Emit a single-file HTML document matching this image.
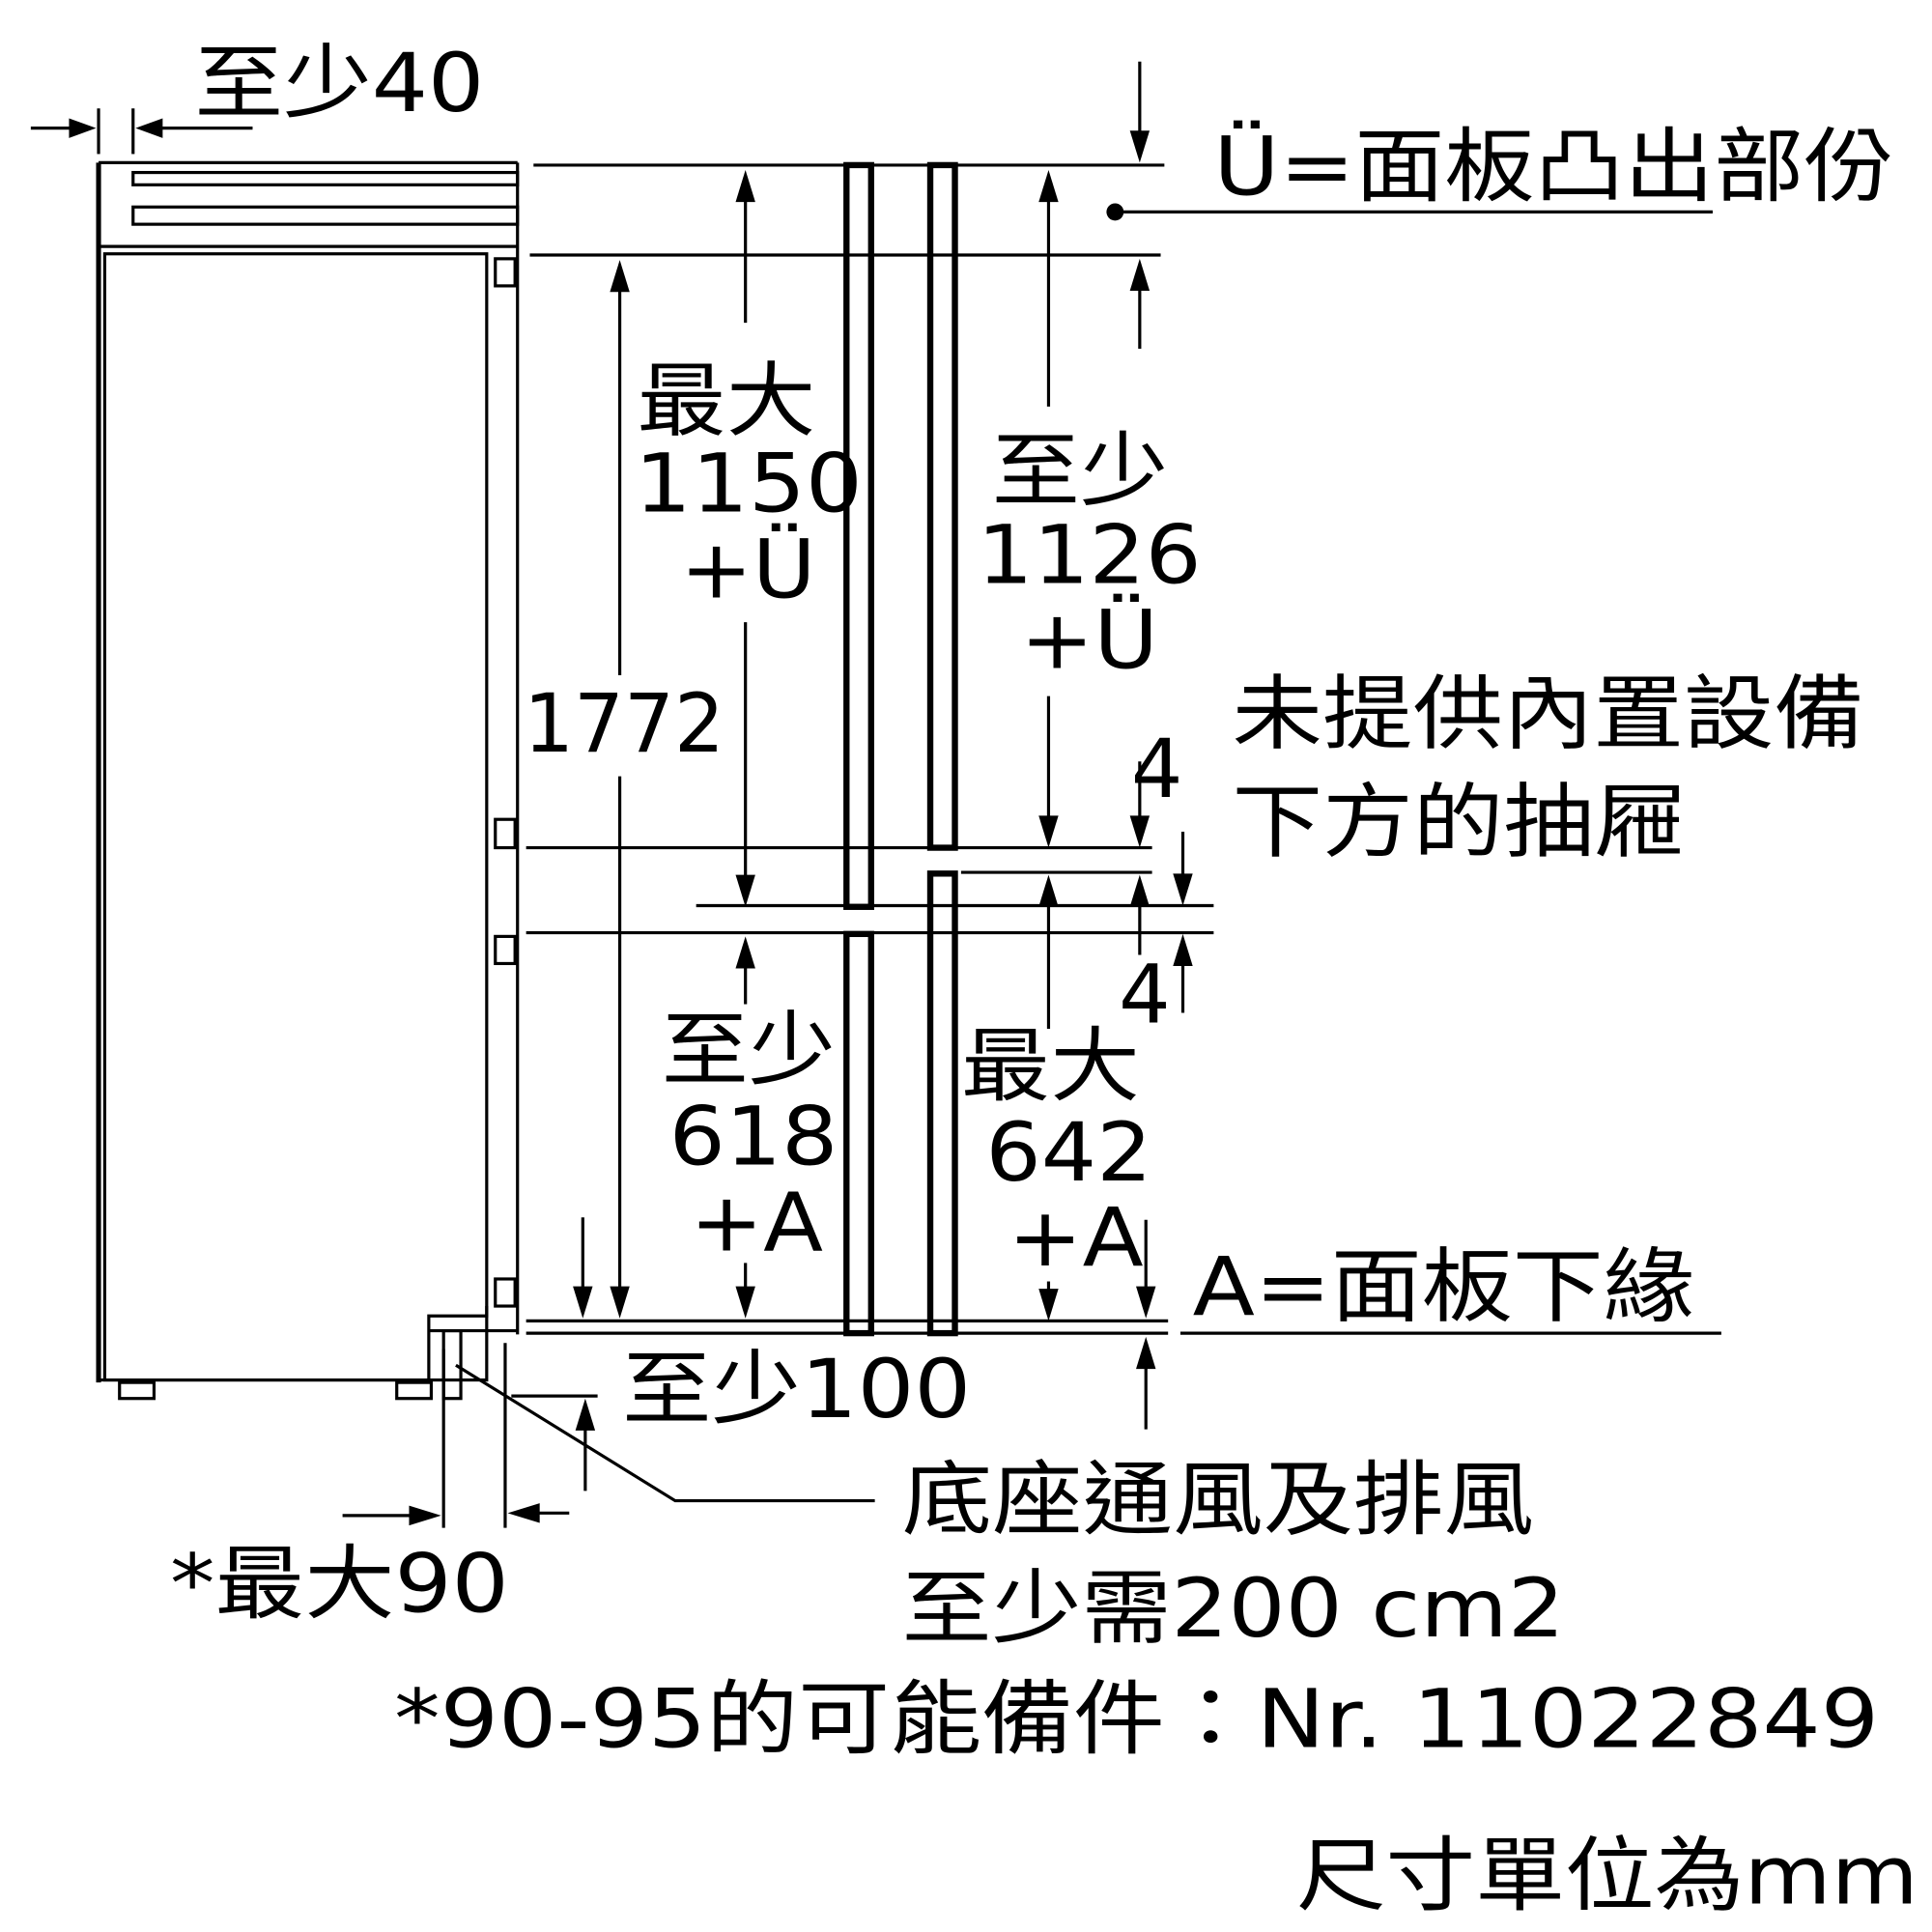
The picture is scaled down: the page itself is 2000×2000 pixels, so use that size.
<!DOCTYPE html>
<html><head><meta charset="utf-8"><style>html,body{margin:0;padding:0;background:#fff}svg{display:block}</style></head>
<body>
<svg width="2000" height="2000" viewBox="0 0 1568 1568" xmlns="http://www.w3.org/2000/svg">
<g fill="none" stroke="#000" stroke-width="2.5">
<line x1="80" y1="132" x2="80" y2="1122" stroke-width="4"/>
<line x1="80" y1="132" x2="420" y2="132"/>
<line x1="420" y1="132" x2="420" y2="1083"/>
<rect x="108" y="140" width="312" height="10"/>
<rect x="108" y="168" width="312" height="14"/>
<line x1="80" y1="200" x2="420" y2="200"/>
<rect x="85" y="206" width="310" height="914"/>
<rect x="402" y="210" width="16" height="22"/>
<rect x="402" y="665" width="16" height="23"/>
<rect x="402" y="760" width="16" height="22"/>
<rect x="402" y="1038" width="16" height="22"/>
<polyline points="395,1060 395,1068 348,1068 348,1120 80,1120"/>
<line x1="348" y1="1080" x2="420" y2="1080"/>
<rect x="360" y="1080" width="14" height="55"/>
<rect x="97" y="1122" width="28" height="13"/>
<rect x="322" y="1122" width="28" height="13"/>
<line x1="433" y1="134" x2="945" y2="134"/>
<line x1="430" y1="207" x2="942" y2="207"/>
<line x1="427" y1="688" x2="935" y2="688"/>
<line x1="780" y1="708" x2="935" y2="708"/>
<line x1="565" y1="735" x2="985" y2="735"/>
<line x1="427" y1="757" x2="985" y2="757"/>
<line x1="427" y1="1072" x2="948" y2="1072"/>
<line x1="427" y1="1082" x2="948" y2="1082"/>
<line x1="958" y1="1082" x2="1397" y2="1082"/>
<g stroke-width="5">
<rect x="687" y="134" width="20" height="602"/>
<rect x="755" y="134" width="20" height="554"/>
<rect x="687" y="758" width="20" height="324"/>
<rect x="755" y="709" width="20" height="373"/>
</g>
<line x1="25" y1="104" x2="70" y2="104"/>
<line x1="80" y1="88" x2="80" y2="125"/>
<line x1="108" y1="88" x2="108" y2="125"/>
<line x1="118" y1="104" x2="205" y2="104"/>
<line x1="605" y1="160" x2="605" y2="262"/>
<line x1="605" y1="505" x2="605" y2="715"/>
<line x1="605" y1="780" x2="605" y2="815"/>
<line x1="605" y1="1025" x2="605" y2="1052"/>
<line x1="503" y1="235" x2="503" y2="548"/>
<line x1="503" y1="630" x2="503" y2="1050"/>
<line x1="473" y1="988" x2="473" y2="1050"/>
<line x1="851" y1="160" x2="851" y2="330"/>
<line x1="851" y1="565" x2="851" y2="668"/>
<line x1="851" y1="732" x2="851" y2="835"/>
<line x1="851" y1="1040" x2="851" y2="1052"/>
<line x1="925" y1="50" x2="925" y2="112"/>
<line x1="925" y1="230" x2="925" y2="283"/>
<line x1="925" y1="618" x2="925" y2="668"/>
<line x1="925" y1="730" x2="925" y2="775"/>
<line x1="960" y1="675" x2="960" y2="715"/>
<line x1="960" y1="778" x2="960" y2="822"/>
<line x1="930" y1="990" x2="930" y2="1050"/>
<line x1="930" y1="1105" x2="930" y2="1160"/>
<line x1="415" y1="1133" x2="485" y2="1133"/>
<line x1="475" y1="1155" x2="475" y2="1210"/>
<line x1="360" y1="1095" x2="360" y2="1240"/>
<line x1="410" y1="1090" x2="410" y2="1240"/>
<line x1="278" y1="1230" x2="338" y2="1230"/>
<line x1="432" y1="1228" x2="462" y2="1228"/>
<polyline points="370,1108 548,1218 710,1218"/>
<line x1="905" y1="172" x2="1390" y2="172"/>
</g>
<g fill="#000">
<circle cx="905" cy="172" r="7"/>
<path d="M78,104 l-22,-8 v16z"/>
<path d="M110,104 l22,-8 v16z"/>
<path d="M605,138 l-8,26 h16z"/>
<path d="M605,736 l-8,-26 h16z"/>
<path d="M605,760 l-8,26 h16z"/>
<path d="M605,1070 l-8,-26 h16z"/>
<path d="M503,211 l-8,26 h16z"/>
<path d="M503,1070 l-8,-26 h16z"/>
<path d="M473,1070 l-8,-26 h16z"/>
<path d="M851,138 l-8,26 h16z"/>
<path d="M851,688 l-8,-26 h16z"/>
<path d="M851,710 l-8,26 h16z"/>
<path d="M851,1072 l-8,-26 h16z"/>
<path d="M925,132 l-8,-26 h16z"/>
<path d="M925,210 l-8,26 h16z"/>
<path d="M925,688 l-8,-26 h16z"/>
<path d="M925,710 l-8,26 h16z"/>
<path d="M960,735 l-8,-26 h16z"/>
<path d="M960,758 l-8,26 h16z"/>
<path d="M930,1070 l-8,-26 h16z"/>
<path d="M930,1085 l-8,26 h16z"/>
<path d="M475,1135 l-8,26 h16z"/>
<path d="M358,1230 l-26,-8 v16z"/>
<path d="M412,1228 l26,-8 v16z"/>
</g>
<g font-family="DejaVu Sans, 'Noto Sans CJK TC', sans-serif" font-size="66" fill="#000" lengthAdjust="spacingAndGlyphs">
<text x="158" y="90" textLength="235" lengthAdjust="spacingAndGlyphs">至少40</text>
<text x="985" y="158" textLength="552" lengthAdjust="spacingAndGlyphs">Ü=面板凸出部份</text>
<text x="517" y="348" textLength="145" lengthAdjust="spacingAndGlyphs">最大</text>
<text x="515" y="415" textLength="185" lengthAdjust="spacingAndGlyphs">1150</text>
<text x="552" y="485" textLength="110" lengthAdjust="spacingAndGlyphs">+Ü</text>
<text x="805" y="405" textLength="143" lengthAdjust="spacingAndGlyphs">至少</text>
<text x="793" y="473" textLength="182" lengthAdjust="spacingAndGlyphs">1126</text>
<text x="828" y="542" textLength="112" lengthAdjust="spacingAndGlyphs">+Ü</text>
<text x="425" y="610" textLength="163" lengthAdjust="spacingAndGlyphs">1772</text>
<text x="1000" y="602" textLength="513" lengthAdjust="spacingAndGlyphs">未提供內置設備</text>
<text x="1000" y="690" textLength="367" lengthAdjust="spacingAndGlyphs">下方的抽屜</text>
<text x="918" y="647">4</text>
<text x="908" y="830">4</text>
<text x="537" y="875" textLength="141" lengthAdjust="spacingAndGlyphs">至少</text>
<text x="543" y="945" textLength="137" lengthAdjust="spacingAndGlyphs">618</text>
<text x="560" y="1015" textLength="108" lengthAdjust="spacingAndGlyphs">+A</text>
<text x="780" y="888" textLength="145" lengthAdjust="spacingAndGlyphs">最大</text>
<text x="800" y="958" textLength="135" lengthAdjust="spacingAndGlyphs">642</text>
<text x="818" y="1027" textLength="110" lengthAdjust="spacingAndGlyphs">+A</text>
<text x="968" y="1067" textLength="407" lengthAdjust="spacingAndGlyphs">A=面板下緣</text>
<text x="505" y="1150" textLength="283" lengthAdjust="spacingAndGlyphs">至少100</text>
<text x="732" y="1240" textLength="513" lengthAdjust="spacingAndGlyphs">底座通風及排風</text>
<text x="732" y="1328" textLength="538" lengthAdjust="spacingAndGlyphs">至少需200 cm2</text>
<text x="138" y="1308" textLength="275" lengthAdjust="spacingAndGlyphs">*最大90</text>
<text x="320" y="1418" textLength="1205" lengthAdjust="spacingAndGlyphs">*90-95的可能備件：Nr. 11022849</text>
<text x="1052" y="1545" textLength="505" lengthAdjust="spacingAndGlyphs">尺寸單位為mm</text>
</g>
</svg>
</body></html>
